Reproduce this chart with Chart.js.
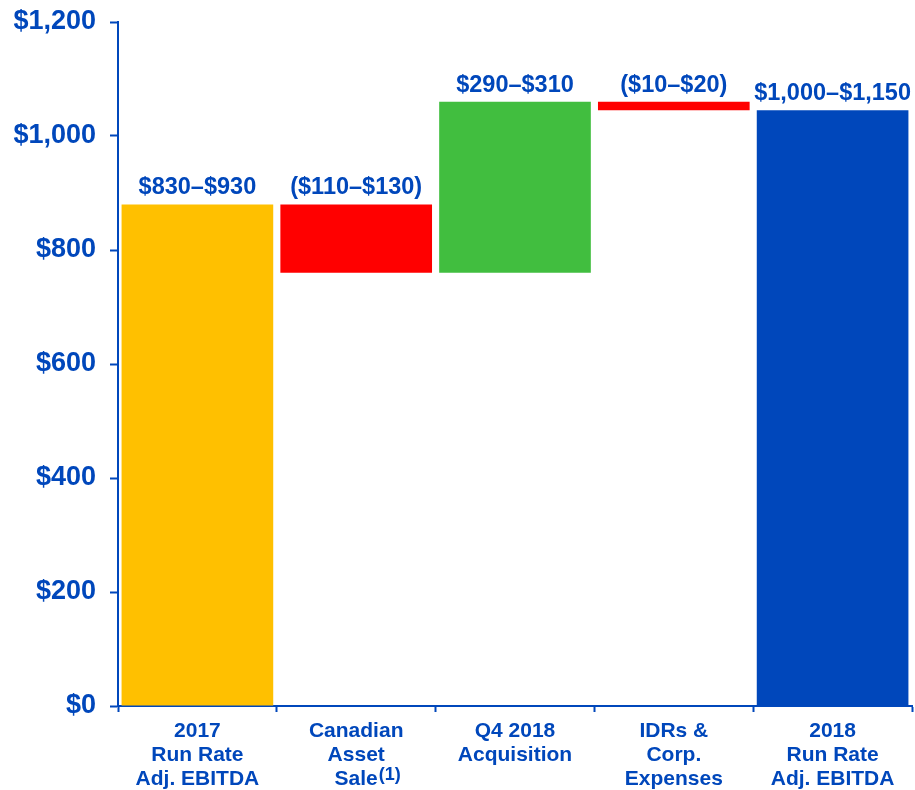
<!DOCTYPE html>
<html>
<head>
<meta charset="utf-8">
<script src="https://cdn.jsdelivr.net/npm/chart.js@4.4.1/dist/chart.umd.min.js"></script>
<style>
  html, body { margin: 0; padding: 0; background: #ffffff; }
  #wrap { width: 915px; height: 790px; }
</style>
</head>
<body>
<div id="wrap"><canvas id="c" width="915" height="790"></canvas></div>
<script>
// ---- data ----
const categories = [
  ['2017', 'Run Rate', 'Adj. EBITDA'],
  ['Canadian', 'Asset', 'Sale'],
  ['Q4 2018', 'Acquisition'],
  ['IDRs &', 'Corp.', 'Expenses'],
  ['2018', 'Run Rate', 'Adj. EBITDA']
];
const barLows  = [0, 760, 760, 1045, 0];
const barHighs = [880, 880, 1060, 1060, 1045];
const valueLabels = ['$830\u2013$930', '($110\u2013$130)', '$290\u2013$310', '($10\u2013$20)', '$1,000\u2013$1,150'];
const barColors = ['#FFC000', '#FF0000', '#41BE3F', '#FF0000', '#0047BB'];
const footnoteMarks = ['', '(1)', '', '', ''];
const yTicks = [0, 200, 400, 600, 800, 1000, 1200];

const BLUE = '#0047BB';
const FONT = "'Liberation Sans', Arial, sans-serif";
const X_TICK_LEN = 6, X_PAD = 7, X_LINE_H = 24;

const valueLabelPlugin = {
  id: 'valueLabels',
  afterDatasetsDraw(chart) {
    const ctx = chart.ctx;
    const meta = chart.getDatasetMeta(0);
    ctx.save();
    ctx.font = 'bold 23.5px ' + FONT;
    ctx.fillStyle = BLUE;
    ctx.textAlign = 'center';
    ctx.textBaseline = 'alphabetic';
    meta.data.forEach((el, i) => {
      const top = Math.min(el.y, el.base);
      ctx.fillText(valueLabels[i], el.x, top - 10);
    });
    ctx.restore();
  }
};

const footnotePlugin = {
  id: 'footnotes',
  afterDraw(chart) {
    const xs = chart.scales.x;
    const ctx = chart.ctx;
    ctx.save();
    footnoteMarks.forEach((m, i) => {
      if (!m) return;
      const lines = categories[i];
      const last = lines[lines.length - 1];
      ctx.font = 'bold 21px ' + FONT;
      const w = ctx.measureText(last).width;
      const cx = xs.getPixelForValue(i);
      const x = cx + w / 2 + 1;
      const yMid = xs.top + X_TICK_LEN + X_PAD + (lines.length - 1) * X_LINE_H + X_LINE_H / 2;
      ctx.font = 'bold 18px ' + FONT;
      ctx.fillStyle = BLUE;
      ctx.textAlign = 'left';
      ctx.textBaseline = 'middle';
      ctx.fillText(m, x, yMid - 4);
    });
    ctx.restore();
  }
};

new Chart(document.getElementById('c'), {
  type: 'bar',
  data: {
    labels: categories,
    datasets: [{
      data: barLows.map((lo, i) => [lo, barHighs[i]]),
      backgroundColor: barColors,
      borderWidth: 0,
      categoryPercentage: 1.0,
      barPercentage: 0.955
    }]
  },
  options: {
    responsive: false,
    animation: false,
    layout: { padding: { left: 0, right: 3, top: 22, bottom: 0 } },
    plugins: {
      legend: { display: false },
      tooltip: { enabled: false }
    },
    scales: {
      x: {
        offset: true,
        afterFit(scale) { scale.height = 84; },
        grid: {
          offset: true,
          drawOnChartArea: false,
          drawTicks: true,
          tickLength: X_TICK_LEN,
          tickWidth: 2,
          tickColor: BLUE
        },
        border: { display: true, color: BLUE, width: 2 },
        ticks: {
          color: BLUE,
          padding: X_PAD,
          maxRotation: 0,
          autoSkip: false,
          font: { family: FONT, size: 21, weight: 'bold', lineHeight: X_LINE_H / 21 }
        }
      },
      y: {
        min: 0,
        max: 1200,
        afterFit(scale) { scale.width = 118; scale.paddingTop = 0; scale.paddingBottom = 0; },
        afterBuildTicks(scale) { scale.ticks = yTicks.map(v => ({ value: v })); },
        grid: {
          drawOnChartArea: false,
          drawTicks: true,
          tickLength: 8,
          tickWidth: 2,
          tickColor: BLUE
        },
        border: { display: true, color: BLUE, width: 2 },
        ticks: {
          color: BLUE,
          padding: 14,
          font: { family: FONT, size: 27, weight: 'bold' },
          callback: v => '$' + Number(v).toLocaleString('en-US')
        }
      }
    }
  },
  plugins: [valueLabelPlugin, footnotePlugin]
});
</script>
</body>
</html>
